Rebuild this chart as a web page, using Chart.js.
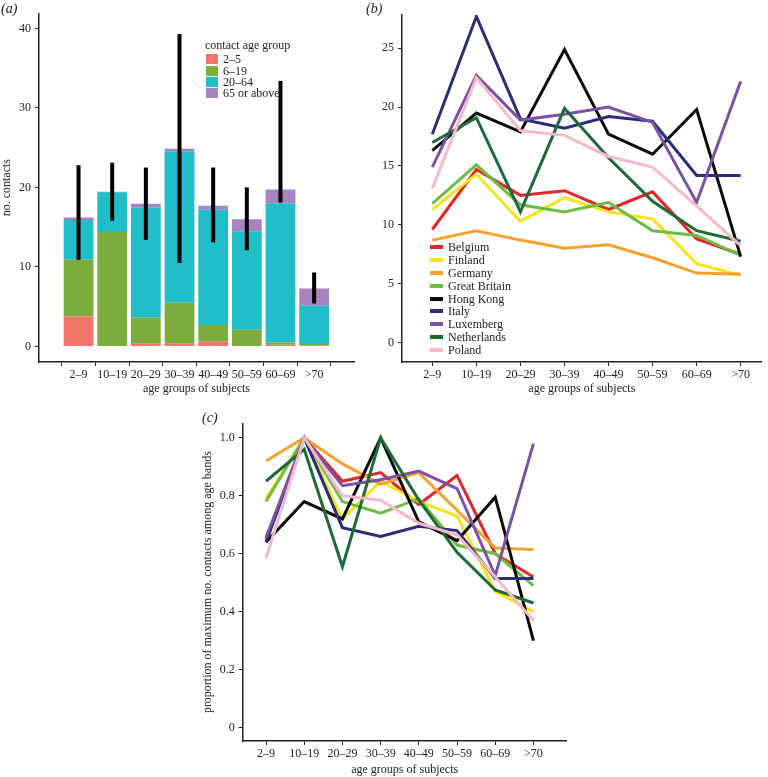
<!DOCTYPE html>
<html>
<head>
<meta charset="utf-8">
<script src="https://cdn.jsdelivr.net/npm/chart.js@4.4.0/dist/chart.umd.min.js"></script>
<style>
body{margin:0;background:#fff;width:768px;height:777px;position:relative;overflow:hidden;font-family:"Liberation Serif",serif;color:#222}
.box{position:absolute}
.tag{position:absolute;font-style:italic;font-size:14px;line-height:14px}
.lg{position:absolute;font-size:12px;line-height:12px;white-space:nowrap}
.sw{position:absolute}
</style>
</head>
<body>
<div class="box" style="left:0;top:0;width:384px;height:400px"><canvas id="chartA"></canvas></div>
<div class="box" style="left:380px;top:0;width:388px;height:400px"><canvas id="chartB"></canvas></div>
<div class="box" style="left:200px;top:398px;width:390px;height:379px"><canvas id="chartC"></canvas></div>
<div class="tag" style="left:1px;top:2px">(a)</div>
<div class="tag" style="left:366px;top:2px">(b)</div>
<div class="tag" style="left:202px;top:411px">(c)</div>
<div id="legendA"></div>
<div id="legendB"></div>
<script>
const ageGroups = ['2–9','10–19','20–29','30–39','40–49','50–59','60–69','>70'];

// (a) mean no. of contacts, split by age of contact
const contactGroups = ['2–5','6–19','20–64','65 or above'];
const contactColors = ['#f1756c','#7cad3c','#1fbec8','#a783c0'];
const contacts2to5   = [3.75,0.05,0.35,0.35,0.6,0.05,0.2,0.15];
const contacts6to19  = [7.15,14.35,3.3,5.15,2.1,2.05,0.3,0.15];
const contacts20to64 = [5.0,5.0,13.8,19.0,14.5,12.4,17.5,4.8];
const contacts65plus = [0.3,0.05,0.5,0.35,0.5,1.5,1.75,2.2];
const errLow  = [10.9,15.8,13.4,10.5,13.1,12.1,18.1,5.4];
const errHigh = [22.8,23.1,22.5,39.3,22.5,20.0,33.4,9.3];

// (b) no. of contacts by country
const countries = ['Belgium','Finland','Germany','Great Britain','Hong Kong','Italy','Luxemberg','Netherlands','Poland'];
const countryColors = ['#e3262a','#f3e51c','#f6a12d','#6dbd45','#0a0a0a','#2a2c7c','#7b52a3','#1d6a35','#f6b9c9'];
const belgium     = [9.6,14.7,12.5,12.9,11.3,12.8,8.8,7.5];
const finland     = [11.3,14.3,10.3,12.3,11.1,10.5,6.7,5.7];
const germany     = [8.7,9.5,8.7,8.0,8.3,7.2,5.9,5.8];
const greatBritain= [11.8,15.1,11.7,11.1,11.9,9.5,9.1,7.4];
const hongKong    = [16.3,19.5,17.9,24.9,17.7,16.0,19.8,7.3];
const italy       = [17.7,27.7,19.0,18.2,19.2,18.8,14.2,14.2];
const luxemberg   = [14.9,22.7,18.9,19.4,20.0,18.7,11.9,22.2];
const netherlands = [17.0,19.1,11.1,19.9,15.7,12.0,9.5,8.6];
const poland      = [13.1,22.5,18.0,17.6,15.8,14.9,11.6,8.2];

// (c) proportion of maximum no. contacts among age bands
const belgiumP     = [0.65,1.0,0.85,0.88,0.77,0.87,0.60,0.52];
const finlandP     = [0.79,1.0,0.72,0.85,0.78,0.73,0.47,0.40];
const germanyP     = [0.92,1.0,0.91,0.84,0.88,0.75,0.62,0.615];
const greatBritainP= [0.78,1.0,0.78,0.74,0.79,0.63,0.60,0.49];
const hongKongP    = [0.64,0.78,0.72,1.0,0.71,0.645,0.795,0.30];
const italyP       = [0.64,1.0,0.69,0.66,0.695,0.68,0.515,0.515];
const luxembergP   = [0.655,1.0,0.835,0.855,0.885,0.825,0.525,0.98];
const netherlandsP = [0.85,0.96,0.555,1.0,0.785,0.605,0.475,0.43];
const polandP      = [0.585,1.0,0.80,0.785,0.705,0.665,0.52,0.37];

const font = {family: '"Liberation Serif", serif', size: 12};
const ink = '#222';

function xAxis(min, max, height, titlePad){
    return {
        type: 'linear', min: min, max: max, stacked: true,
        afterBuildTicks: (s) => { s.ticks = ageGroups.map((_, i) => ({value: i})); },
        afterFit: (s) => { s.height = height; },
        ticks: {callback: (v) => ageGroups[v], font: font, color: ink, padding: 2, autoSkip: false, maxRotation: 0},
        grid: {drawOnChartArea: false, tickLength: 4, color: ink},
        border: {color: ink, width: 1.5},
        title: {display: true, text: 'age groups of subjects', font: font, color: ink, padding: {top: 0, bottom: titlePad}}
    };
}

function yAxis(min, max, tickVals, width, label, titlePad){
    return {
        min: min, max: max,
        afterBuildTicks: (s) => { s.ticks = tickVals.map(v => ({value: v})); },
        afterFit: (s) => { s.width = width; },
        ticks: {font: font, color: ink, padding: 4, callback: (v) => (v === 0 || Number.isInteger(v) && max > 2) ? String(v) : v.toFixed(1)},
        grid: {drawOnChartArea: false, tickLength: 4, color: ink},
        border: {color: ink, width: 1.5},
        title: {display: label != '', text: label, font: font, color: ink, padding: {top: titlePad, bottom: 0}}
    };
}

const errorBars = {
    id: 'errorBars',
    afterDatasetsDraw(chart) {
        const {ctx, scales: {x, y}} = chart;
        ctx.save();
        ctx.strokeStyle = '#000';
        ctx.lineWidth = 4;
        errLow.forEach((lo, i) => {
            const px = x.getPixelForValue(i);
            ctx.beginPath();
            ctx.moveTo(px, y.getPixelForValue(lo));
            ctx.lineTo(px, y.getPixelForValue(errHigh[i]));
            ctx.stroke();
        });
        ctx.restore();
    }
};

function toPoints(arr){
    return arr.map((v, i) => ({x: i, y: v}));
}

function drawBars(){
    const series = [contacts2to5, contacts6to19, contacts20to64, contacts65plus];
    new Chart(document.getElementById('chartA'), {
        type: 'bar',
        data: {
            datasets: series.map((s, k) => ({
                label: contactGroups[k],
                data: toPoints(s),
                backgroundColor: contactColors[k],
                borderWidth: 0,
                categoryPercentage: 1,
                barPercentage: 0.885
            }))
        },
        options: {
            responsive: false, animation: false,
            layout: {padding: {left: 0, top: 13.3, right: 30, bottom: 0}},
            plugins: {legend: {display: false}, tooltip: {enabled: false}},
            scales: {
                x: xAxis(-0.59, 7.6, 38, 4),
                y: Object.assign(yAxis(-1.96, 41.9, [0,10,20,30,40], 39, 'no. contacts', 0), {stacked: true})
            }
        },
        plugins: [errorBars]
    });
}

function drawLines(id, series, yopts, xopts, pad){
    new Chart(document.getElementById(id), {
        type: 'line',
        data: {
            datasets: series.map((s, k) => ({
                label: countries[k],
                data: toPoints(s),
                borderColor: countryColors[k],
                backgroundColor: countryColors[k],
                borderWidth: 3,
                pointRadius: 0,
                tension: 0,
                order: series.length - k
            }))
        },
        options: {
            responsive: false, animation: false,
            layout: {padding: pad},
            plugins: {legend: {display: false}, tooltip: {enabled: false}},
            scales: {x: xopts, y: yopts}
        }
    });
}

function sizeCanvas(id, w, h){
    const c = document.getElementById(id);
    c.width = w; c.height = h;
    c.style.width = w + 'px'; c.style.height = h + 'px';
}

function legends(){
    let html = '<div class="lg" style="left:205px;top:39px">contact age group</div>';
    contactGroups.forEach((g, i) => {
        const cy = 59.3 + i * 11.35;
        html += '<div class="sw" style="left:206px;top:' + (cy - 5) + 'px;width:12px;height:10px;background:' + contactColors[i] + '"></div>';
        html += '<div class="lg" style="left:223px;top:' + (cy - 6) + 'px">' + g + '</div>';
    });
    document.getElementById('legendA').innerHTML = html;

    html = '';
    countries.forEach((c, i) => {
        const cy = 247 + i * 12.88;
        html += '<div class="sw" style="left:430px;top:' + (cy - 2) + 'px;width:13px;height:4px;background:' + countryColors[i] + '"></div>';
        html += '<div class="lg" style="left:448px;top:' + (cy - 6) + 'px">' + c + '</div>';
    });
    document.getElementById('legendB').innerHTML = html;
}

function main(){
    sizeCanvas('chartA', 384, 400);
    sizeCanvas('chartB', 388, 400);
    sizeCanvas('chartC', 390, 379);
    drawBars();
    drawLines('chartB',
        [belgium, finland, germany, greatBritain, hongKong, italy, luxemberg, netherlands, poland],
        yAxis(-1.66, 27.83, [0,5,10,15,20,25], 22, '', 0),
        xAxis(-0.688, 7.477, 38, 4),
        {left: 0, top: 15, right: 6.3, bottom: 0});
    drawLines('chartC',
        [belgiumP, finlandP, germanyP, greatBritainP, hongKongP, italyP, luxembergP, netherlandsP, polandP],
        yAxis(-0.046, 1.05, [0,0.2,0.4,0.6,0.8,1.0], 42.7, 'proportion of maximum no. contacts among age bands', 0.8),
        xAxis(-0.61, 7.87, 36, 0),
        {left: 0, top: 25.3, right: 23.3, bottom: 0});
    legends();
}

main();
</script>
</body>
</html>
